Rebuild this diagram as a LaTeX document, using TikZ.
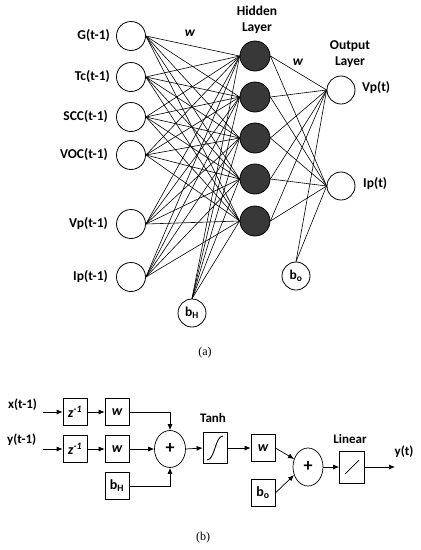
\documentclass[tikz,border=0pt]{standalone}
\usepackage{fontspec}
\setmainfont{Carlito}
\newfontfamily\capfont{Liberation Serif}
\usetikzlibrary{arrows.meta,shapes.geometric}
\begin{document}
\begin{tikzpicture}[x=1pt,y=-1pt,
  inp/.style={circle,draw,line width=0.8pt,minimum size=29pt,inner sep=0pt,fill=white},
  hid/.style={circle,draw,line width=0.8pt,minimum size=30pt,inner sep=0pt,fill=black!78},
  lab/.style={font=\fontsize{13.5}{15}\selectfont\bfseries,inner sep=0pt},
  blab/.style={font=\fontsize{13}{15}\selectfont\bfseries,inner sep=0pt},
  wire/.style={line width=0.6pt},
  blk/.style={draw,line width=0.7pt,minimum width=24pt,minimum height=27pt,inner sep=0pt,font=\fontsize{14}{16}\selectfont\bfseries},
  sumnode/.style={ellipse,draw,line width=0.7pt,minimum width=31pt,minimum height=37pt,inner sep=0pt,font=\fontsize{18}{20}\selectfont\bfseries},
  arr/.style={-{Latex[length=6pt,width=5pt]},line width=0.7pt},
  captext/.style={font=\capfont\fontsize{12}{14}\selectfont,inner sep=0pt}]
\useasboundingbox (0,0) rectangle (421,550);
% ---------- (a) network ----------
\foreach \n/\y in {1/36,2/77,3/117,4/155,5/224,6/277}{\node[inp] (i\n) at (131,\y) {};}
\foreach \n/\y in {1/56,2/97,3/138,4/179,5/221}{\node[hid] (h\n) at (255,\y) {};}
\node[inp,minimum size=28pt] (o1) at (341,90) {};
\node[inp,minimum size=28pt] (o2) at (341,186) {};
\node[inp,minimum size=28pt,lab] (bh) at (192,313) {b\textsubscript{H}};
\node[inp,minimum size=28pt,lab] (bo) at (296,276) {b\textsubscript{o}};
\foreach \i in {1,...,6}{\foreach \h in {1,...,5}{\draw[wire] (i\i.east) -- (h\h.west);}}
\foreach \h in {1,...,5}{\draw[wire] (bh.north) -- (h\h.west);}
\foreach \h in {1,...,5}{\foreach \o in {1,2}{\draw[wire] (h\h.east) -- (o\o.west);}}
\foreach \o in {1,2}{\draw[wire] (bo.north) -- (o\o.west);}
\node[lab,anchor=east] (lg) at (110,36) {G(t-1)};
\node[lab,anchor=east] (ltc) at (110,77) {Tc(t-1)};
\node[lab,anchor=east] (lscc) at (108,117) {SCC(t-1)};
\node[lab,anchor=east] (lvoc) at (108,155) {VOC(t-1)};
\node[lab,anchor=east] (lvp) at (108,224) {Vp(t-1)};
\node[lab,anchor=east] (lip) at (108,277) {Ip(t-1)};
\node[lab,anchor=west] (lvpt) at (362,88) {Vp(t)};
\node[lab,anchor=west] (lipt) at (363,184) {Ip(t)};
\node[lab,align=center] (hl) at (257,20) {Hidden\\[1pt]Layer};
\node[lab,align=center] (ol) at (350,54) {Output\\[1pt]Layer};
\node[lab,font=\fontsize{13.5}{15}\selectfont\bfseries\itshape] (w1l) at (190,33) {w};
\node[lab,font=\fontsize{13.5}{15}\selectfont\bfseries\itshape] (w2l) at (298,62) {w};
\node[captext] (ca) at (205,353) {(a)};
% ---------- (b) block diagram ----------
\node[blab,anchor=west] (lx) at (8,405) {x(t-1)};
\node[blab,anchor=west] (ly) at (7,440) {y(t-1)};
\coordinate (ax) at (43,412);
\coordinate (ay) at (43,449);
\node[blk] (z1) at (75,412) {\itshape z\textsuperscript{-1}};
\node[blk] (z2) at (75,449) {\itshape z\textsuperscript{-1}};
\node[blk] (wa) at (117,412) {\itshape w};
\node[blk] (wb) at (117,449) {\itshape w};
\node[blk] (bhb) at (117,486) {b\textsubscript{H}};
\node[sumnode] (s1) at (170,449) {+};
\node[blk,minimum height=31pt] (th) at (215,448) {};
\node[blab] (thl) at (213,418) {Tanh};
\node[blk] (wc) at (263,448) {\itshape w};
\node[blk] (bob) at (263,493) {b\textsubscript{o}};
\node[sumnode,minimum width=30pt,minimum height=38pt] (s2) at (308,467) {+};
\node[blk,minimum width=25pt,minimum height=32pt] (lin) at (352,467) {};
\node[blab] (linl) at (350,439) {Linear};
\coordinate (yo) at (395,467);
\node[blab] (ylab) at (404,452) {y(t)};
\node[captext] (cb) at (203,538) {(b)};
\draw[arr] (ax) -- (z1.west);
\draw[arr] (ay) -- (z2.west);
\draw[arr] (z1.east) -- (wa.west);
\draw[arr] (z2.east) -- (wb.west);
\draw[arr] (wa.east) -| (s1.north);
\draw[arr] (wb.east) -- (s1.west);
\draw[arr] (bhb.east) -| (s1.south);
\draw[arr] (s1.east) -- (th.west);
\draw[arr] (th.east) -- (wc.west);
\draw[arr] (wc.east) -- (s2.150);
\draw[arr] (bob.east) -- (s2.210);
\draw[arr] (s2.east) -- (lin.west);
\draw[arr] (lin.east) -- (yo);
\draw[line width=0.9pt] ([shift={(-8,12)}]th.center) .. controls +(8,0) and +(-8,0) .. ([shift={(8,-12)}]th.center);
\draw[line width=0.7pt] ([shift={(-7,7)}]lin.center) -- ([shift={(7,-7)}]lin.center);
\end{tikzpicture}
\end{document}
